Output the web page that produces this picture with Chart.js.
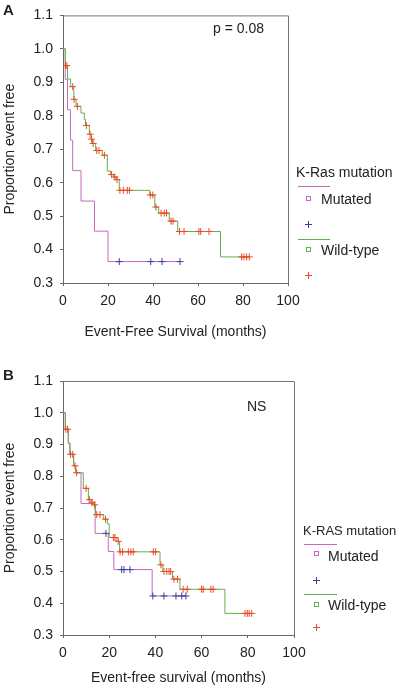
<!DOCTYPE html>
<html>
<head>
<meta charset="utf-8">
<script src="https://cdn.jsdelivr.net/npm/chart.js@4/dist/chart.umd.min.js"></script>
<style>
  body { margin: 0; background: #fff; font-family: 'Liberation Sans', Arial, sans-serif; color: #222; }
  #page { position: relative; width: 402px; height: 687px; overflow: hidden; }
  .box { position: absolute; left: 0; width: 402px; }
  .txt { position: absolute; font-size: 14px; line-height: 16px; white-space: nowrap; }
  .panel { position: absolute; font-size: 15px; font-weight: bold; line-height: 16px; }
  .ln { position: absolute; height: 1px; }
  .sq { position: absolute; width: 3px; height: 3px; border: 1px solid; }
  .plus { position: absolute; width: 7px; height: 7px; }
  .plus::before, .plus::after { content: ''; position: absolute; background: currentColor; }
  .plus::before { left: 0; top: 3px; width: 7px; height: 1px; }
  .plus::after { left: 3px; top: 0; width: 1px; height: 7px; }
</style>
</head>
<body>
<div id="page">
  <div class="box" style="top:0;height:345px"><canvas id="chartA"></canvas></div>
  <div class="box" style="top:345px;height:342px"><canvas id="chartB"></canvas></div>

  <div class="panel" style="left:3px;top:2px">A</div>
  <div class="panel" style="left:3px;top:367px">B</div>
  <div class="txt" style="left:213px;top:20px">p = 0.08</div>
  <div class="txt" style="left:247px;top:398px">NS</div>

  <!-- legend A -->
  <div class="txt" style="left:296px;top:164px">K-Ras mutation</div>
  <div class="ln" style="left:298px;top:186px;width:32px;background:#c768bb"></div>
  <div class="sq" style="left:306px;top:196px;border-color:#c768bb"></div>
  <div class="txt" style="left:321px;top:191px">Mutated</div>
  <div class="plus" style="left:305px;top:221px;color:#3d3f9a"></div>
  <div class="ln" style="left:298px;top:239px;width:32px;background:#5cb54a"></div>
  <div class="sq" style="left:306px;top:247px;border-color:#5cb54a"></div>
  <div class="txt" style="left:321px;top:242px">Wild-type</div>
  <div class="plus" style="left:305px;top:272px;color:#ec4a26"></div>

  <!-- legend B -->
  <div class="txt" style="left:303px;top:523px;font-size:13px">K-RAS mutation</div>
  <div class="ln" style="left:304px;top:544px;width:33px;background:#c768bb"></div>
  <div class="sq" style="left:314px;top:551px;border-color:#c768bb"></div>
  <div class="txt" style="left:328px;top:548px">Mutated</div>
  <div class="plus" style="left:313px;top:577px;color:#3d3f9a"></div>
  <div class="ln" style="left:304px;top:594px;width:33px;background:#5cb54a"></div>
  <div class="sq" style="left:314px;top:602px;border-color:#5cb54a"></div>
  <div class="txt" style="left:328px;top:597px">Wild-type</div>
  <div class="plus" style="left:313px;top:624px;color:#ec4a26"></div>
</div>

<script>
// axis ticks
const xTicks = [0, 20, 40, 60, 80, 100];
const yTicks = [0.3, 0.4, 0.5, 0.6, 0.7, 0.8, 0.9, 1.0, 1.1];

// Panel A - K-Ras mutated
const aMutTime = [0, 1, 2, 3.3, 4.3, 8, 14, 20, 52];
const aMutSurv = [1.0, 0.909, 0.818, 0.727, 0.636, 0.545, 0.455, 0.364, 0.364];
const aMutCensTime = [25, 39, 44, 52];
const aMutCensSurv = [0.364, 0.364, 0.364, 0.364];

// Panel A - wild-type
const aWildTime = [0, 1, 2, 3.4, 4.8, 5.8, 8, 9.5, 10, 11.7, 12.5, 13.1, 14.5, 17.5, 19.7, 21.2, 22.5, 23.6, 25, 38.6, 40.8, 42.5, 47.2, 51, 70, 82.8];
const aWildSurv = [1.0, 0.95, 0.91, 0.887, 0.849, 0.828, 0.808, 0.789, 0.771, 0.745, 0.730, 0.717, 0.696, 0.682, 0.635, 0.624, 0.617, 0.609, 0.577, 0.563, 0.527, 0.509, 0.485, 0.454, 0.378, 0.378];
const aWildCensTime = [1.1, 1.7, 4.3, 4.9, 6.4, 10.4, 12.0, 12.7, 13.4, 15, 16, 18.4, 21.6, 23, 24, 25.3, 26.8, 28.6, 29.5, 38.8, 39.9, 41.3, 43.6, 45, 46, 48, 48.9, 51.8, 53.8, 60.4, 61.2, 64.9, 79.4, 80.4, 81.6, 82.8];
const aWildCensSurv = [0.95, 0.95, 0.887, 0.849, 0.828, 0.771, 0.745, 0.730, 0.717, 0.696, 0.696, 0.682, 0.624, 0.617, 0.609, 0.577, 0.577, 0.577, 0.577, 0.563, 0.563, 0.527, 0.509, 0.509, 0.509, 0.485, 0.485, 0.454, 0.454, 0.454, 0.454, 0.454, 0.378, 0.378, 0.378, 0.378];

// Panel B - K-RAS mutated
const bMutTime = [0, 1, 2.3, 3, 4.6, 5.5, 7.8, 13.9, 19.6, 22, 38.6, 53.2];
const bMutSurv = [1.0, 0.948, 0.904, 0.869, 0.833, 0.811, 0.714, 0.62, 0.563, 0.506, 0.423, 0.423];
const bMutCensTime = [18.6, 25.4, 26.4, 29, 38.9, 43.7, 48.9, 51.4, 53.2];
const bMutCensSurv = [0.62, 0.506, 0.506, 0.506, 0.423, 0.423, 0.423, 0.423, 0.423];

// Panel B - wild-type
const bWildTime = [0, 1, 2.3, 3, 4.6, 5.5, 8.8, 11, 12.3, 13.3, 14.1, 17.6, 19.2, 20, 23.3, 24.5, 42, 43.2, 47.4, 50.6, 70.1, 81.7];
const bWildSurv = [1.0, 0.948, 0.904, 0.869, 0.833, 0.811, 0.762, 0.726, 0.718, 0.71, 0.679, 0.665, 0.65, 0.607, 0.595, 0.562, 0.521, 0.5, 0.476, 0.444, 0.368, 0.368];
const bWildCensTime = [1.2, 2.0, 3.3, 4.2, 5.2, 5.9, 10, 11.4, 12.6, 13.7, 14.6, 16, 18.4, 21.8, 22.5, 23.9, 24.7, 25.8, 28.3, 29.4, 30.4, 39.1, 40.1, 42.4, 43.7, 44.9, 45.9, 46.6, 48, 49.6, 52, 53.8, 60, 60.7, 64, 65, 78.8, 79.8, 80.6, 81.7];
const bWildCensSurv = [0.948, 0.948, 0.869, 0.869, 0.833, 0.811, 0.762, 0.726, 0.718, 0.71, 0.679, 0.679, 0.665, 0.607, 0.607, 0.595, 0.562, 0.562, 0.562, 0.562, 0.562, 0.562, 0.562, 0.521, 0.5, 0.5, 0.5, 0.5, 0.476, 0.476, 0.444, 0.444, 0.444, 0.444, 0.444, 0.444, 0.368, 0.368, 0.368, 0.368];

const MAGENTA = '#c768bb', GREEN = '#5cb54a', BLUE = '#3d3f9a', RED = '#ec4a26';
const FONT = { family: "'Liberation Sans', Arial, sans-serif", size: 14 };

const pts = (xs, ys) => xs.map((x, i) => ({ x, y: ys[i] }));

// top/right frame of the plot box
const framePlugin = {
  id: 'frame',
  afterDatasetsDraw(chart) {
    const { ctx, chartArea: a } = chart;
    ctx.save();
    ctx.strokeStyle = '#777';
    ctx.lineWidth = 1;
    ctx.beginPath();
    ctx.moveTo(a.left, a.top + 0.5);
    ctx.lineTo(a.right + 0.5, a.top + 0.5);
    ctx.lineTo(a.right + 0.5, a.bottom);
    ctx.stroke();
    ctx.restore();
  }
};

function kmChart(canvasId, d, xTitle, padding, xHeight) {
  const ctx = document.getElementById(canvasId);
  const line = (data, color, order) => ({
    type: 'line', data, borderColor: color, borderWidth: 1, stepped: true,
    pointRadius: 0, fill: false, order
  });
  const marks = (data, color) => ({
    type: 'scatter', data, borderColor: color, backgroundColor: color, borderWidth: 1,
    pointStyle: 'cross', pointRadius: 3.5, showLine: false, order: 0
  });
  const axisCommon = {
    border: { color: '#666', width: 1 },
    grid: { drawOnChartArea: false, drawTicks: true, tickLength: 3, color: '#666' },
  };
  return new Chart(ctx, {
    type: 'line',
    data: {
      datasets: [
        line(pts(d.mutT, d.mutS), MAGENTA, 2),
        line(pts(d.wildT, d.wildS), GREEN, 1),
        marks(pts(d.mutCT, d.mutCS), BLUE),
        marks(pts(d.wildCT, d.wildCS), RED),
      ]
    },
    options: {
      responsive: true, maintainAspectRatio: false, animation: false,
      layout: { padding },
      plugins: { legend: { display: false }, tooltip: { enabled: false } },
      scales: {
        x: {
          ...axisCommon, type: 'linear', min: 0, max: 100,
          afterBuildTicks: s => { s.ticks = xTicks.map(v => ({ value: v })); },
          afterFit: s => { s.height = xHeight; },
          ticks: { font: FONT, color: '#222', padding: 7, maxRotation: 0 },
          title: { display: true, text: xTitle, font: FONT, color: '#222', padding: { top: 0, bottom: 0 } }
        },
        y: {
          ...axisCommon, type: 'linear', min: 0.3, max: 1.1,
          afterBuildTicks: s => { s.ticks = yTicks.map(v => ({ value: v })); },
          afterFit: s => { s.width = 63; },
          ticks: { font: FONT, color: '#222', padding: 7, callback: v => v.toFixed(1) },
          title: { display: true, text: 'Proportion event free', font: FONT, color: '#222', padding: { top: 2, bottom: 0 } }
        }
      }
    },
    plugins: [framePlugin]
  });
}

kmChart('chartA', {
  mutT: aMutTime, mutS: aMutSurv, mutCT: aMutCensTime, mutCS: aMutCensSurv,
  wildT: aWildTime, wildS: aWildSurv, wildCT: aWildCensTime, wildCS: aWildCensSurv
}, 'Event-Free Survival (months)', { left: 0, top: 12, right: 114, bottom: 4 }, 58);

kmChart('chartB', {
  mutT: bMutTime, mutS: bMutSurv, mutCT: bMutCensTime, mutCS: bMutCensSurv,
  wildT: bWildTime, wildS: bWildSurv, wildCT: bWildCensTime, wildCS: bWildCensSurv
}, 'Event-free survival (months)', { left: 0, top: 36, right: 108, bottom: 0 }, 52);
</script>
</body>
</html>
